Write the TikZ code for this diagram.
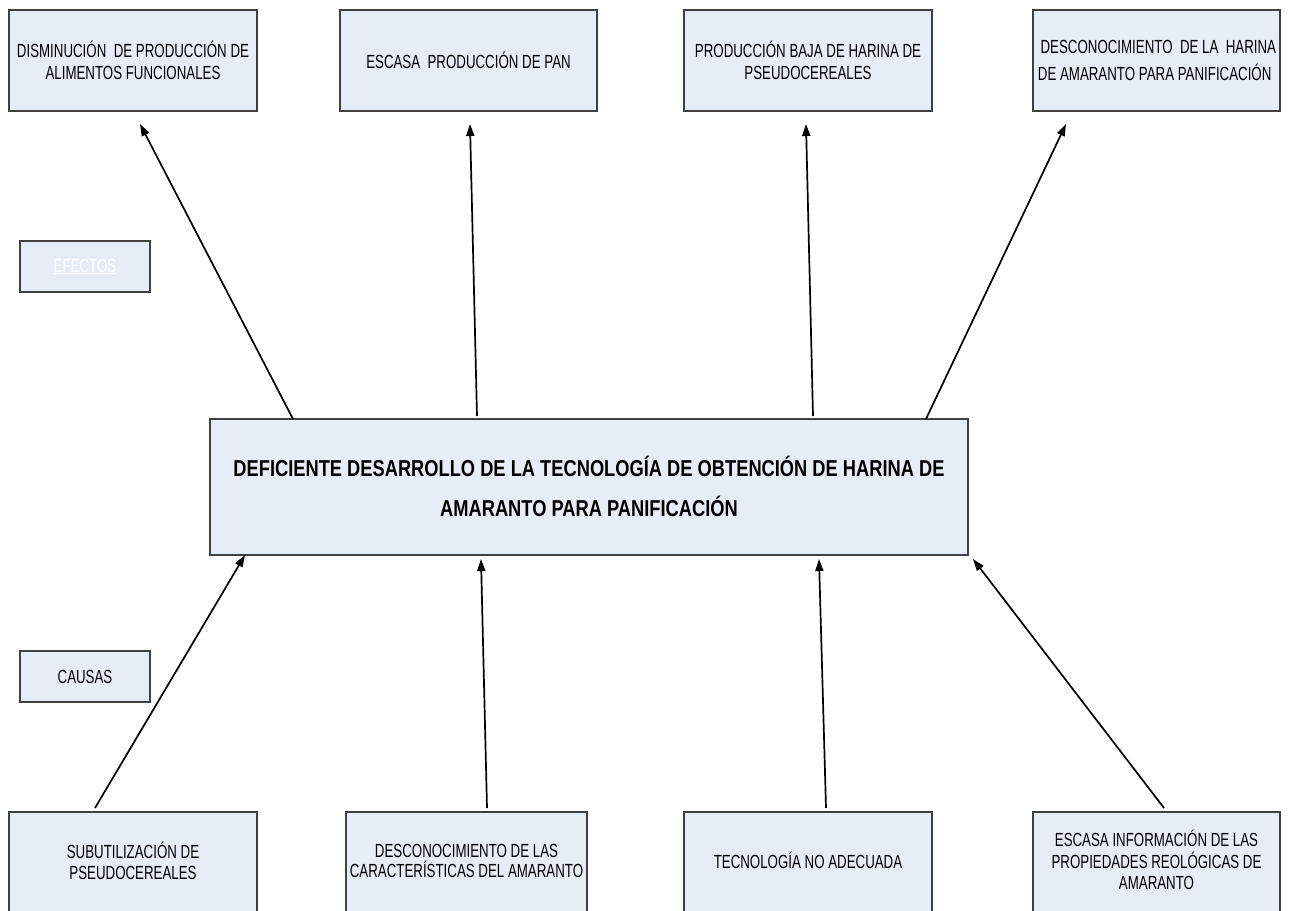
\documentclass[tikz,border=0pt]{standalone}
\usepackage{fontspec}
\setmainfont{Liberation Sans}[FakeStretch=0.70]
\newfontfamily\centerfont{Liberation Sans}[FakeStretch=0.795]
\usetikzlibrary{arrows.meta}
\definecolor{boxfill}{HTML}{E7EDF7}
\definecolor{boxline}{HTML}{404040}
\tikzset{
  box/.style={draw=boxline, line width=1.2pt, fill=boxfill, rectangle, inner sep=0pt, align=center,
    font=\fontsize{19}{21.5}\selectfont},
  txt/.style={inner sep=0pt, align=center, font=\fontsize{19}{21.5}\selectfont},
  arr/.style={line width=1.7pt, -{Triangle[length=12pt,width=8pt]}},
}
\begin{document}
\begin{tikzpicture}[x=1pt,y=-1pt]
\useasboundingbox (0,0) rectangle (1290,910);
\clip (0,0) rectangle (1290,910);
% effects
\node[box, minimum width=248, minimum height=101] (e1) at (133,60.5) {DISMINUCIÓN\ \ DE PRODUCCIÓN DE\\ALIMENTOS FUNCIONALES};
\node[box, minimum width=257, minimum height=101] (e2) at (468.5,60.5) {ESCASA\ \ PRODUCCIÓN DE PAN};
\node[box, minimum width=248, minimum height=101] (e3) at (808,60.5) {PRODUCCIÓN BAJA DE HARINA DE\\PSEUDOCEREALES};
\node[box, minimum width=247, minimum height=101, font=\fontsize{19}{27.5}\selectfont] (e4) at (1156.5,60.5) {\ DESCONOCIMIENTO\ \ DE LA\ \ HARINA\\DE AMARANTO PARA PANIFICACIÓN\ \ };
% labels
\node[box, minimum width=130, minimum height=51, text=white] (lef) at (85,266.5) {\underline{EFECTOS}};
\node[box, minimum width=130, minimum height=51] (lca) at (85,676.5) {CAUSAS};
% center
\node[box, minimum width=758, minimum height=136, font=\centerfont\fontsize{23}{40}\bfseries\selectfont] (c) at (589,487) {\raisebox{2pt}{DEFICIENTE DESARROLLO DE LA TECNOLOGÍA DE OBTENCIÓN DE HARINA DE}\\\raisebox{2pt}{AMARANTO PARA PANIFICACIÓN}};
% causes
\node[box, minimum width=248, minimum height=110] (k1) at (133,867) {};
\node[box, minimum width=241, minimum height=110] (k2) at (466.5,867) {};
\node[box, minimum width=248, minimum height=110] (k3) at (808,867) {};
\node[box, minimum width=247, minimum height=110] (k4) at (1156.5,867) {};
\node[txt] (k1t) at (133,861) {SUBUTILIZACIÓN DE\\PSEUDOCEREALES};
\node[txt, font=\fontsize{19}{20}\selectfont] (k2t) at (466.5,861) {DESCONOCIMIENTO DE LAS\\CARACTERÍSTICAS DEL AMARANTO};
\node[txt] (k3t) at (808,860) {TECNOLOGÍA NO ADECUADA};
\node[txt] (k4t) at (1156.5,860) {ESCASA INFORMACIÓN DE LAS\\PROPIEDADES REOLÓGICAS DE\\AMARANTO};
% connector ends
\coordinate (t1) at (140,124);
\coordinate (t2) at (470,124);
\coordinate (t3) at (806,124);
\coordinate (t4) at (1066,124);
\coordinate (s1) at (293,419);
\coordinate (s2) at (477,416);
\coordinate (s3) at (813,416);
\coordinate (s4) at (926,419);
\coordinate (b1) at (95,808);
\coordinate (b2) at (487,808);
\coordinate (b3) at (826,808);
\coordinate (b4) at (1164,808);
\coordinate (u1) at (245,555);
\coordinate (u2) at (481,559);
\coordinate (u3) at (819,559);
\coordinate (u4) at (973,559);
\draw[arr] (s1) -- (t1);
\draw[arr] (s2) -- (t2);
\draw[arr] (s3) -- (t3);
\draw[arr] (s4) -- (t4);
\draw[arr] (b1) -- (u1);
\draw[arr] (b2) -- (u2);
\draw[arr] (b3) -- (u3);
\draw[arr] (b4) -- (u4);
\end{tikzpicture}
\end{document}
